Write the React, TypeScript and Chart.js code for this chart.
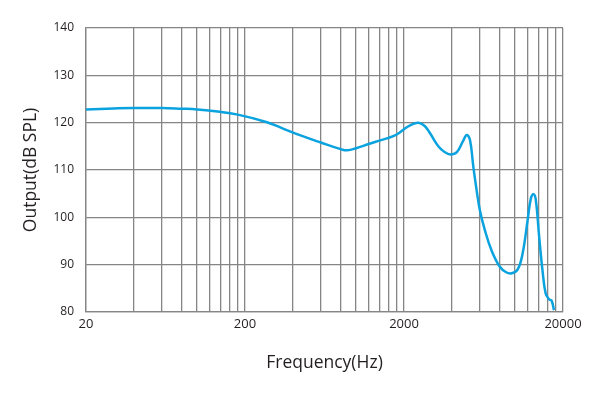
import React, { useEffect, useRef } from 'react';
import { Chart, registerables } from 'chart.js';

Chart.register(...registerables);

// Frequency response (Hz -> dB SPL)
const frequencies = [
  20, 30, 40, 60, 80, 100, 130, 180, 275, 350, 447, 600, 800, 880,
  1000, 1200, 1400, 1600, 1800, 2000, 2200, 2460, 2700, 2917, 3307, 3600, 3910, 4300,
  4700, 4960, 5205, 5457, 5721, 6000, 6450, 7090, 7990, 8780, 9530, 10380, 11150,
  11980, 12560, 13060, 13490, 14160, 14850, 15560, 16330, 16950, 17550,
];
const outputDb = [
  122.8, 123.0, 123.1, 123.1, 122.95, 122.8, 122.4, 121.7, 120.1,
  118.7, 117.3, 115.8, 114.4, 114.15, 114.6, 115.5, 116.2, 116.8, 117.5, 118.6,
  119.5, 120.0, 119.3, 117.75, 114.9, 113.8, 113.3, 113.8, 116.1, 117.4, 116.3, 110.7,
  105.8, 101.5, 97.3, 93.1, 89.6, 88.4, 88.2, 89.0, 92.4, 99.4, 104.0, 104.9, 103.7,
  95.9, 88.9, 83.9, 82.7, 82.4, 80.4,
];

// Axis ticks
const xGridValues = [
  20, 40, 60, 80, 100, 120, 140, 160, 180, 200,
  400, 600, 800, 1000, 1200, 1400, 1600, 1800, 2000,
  4000, 6000, 8000, 10000, 12000, 14000, 16000, 18000, 20000,
];
const xLabelValues = [20, 200, 2000, 20000];
const yTickValues = [80, 90, 100, 110, 120, 130, 140];

const FONT = '"Open Sans", "Noto Sans", sans-serif';
const TEXT = '#231f20';
const GRID = '#858585';
const LINE = '#0aa3df';

export default function App() {
  const ref = useRef<HTMLCanvasElement | null>(null);

  useEffect(() => {
    if (!ref.current) return;
    const chart = new Chart(ref.current, {
      type: 'line',
      data: {
        datasets: [
          {
            data: frequencies.map((f, i) => ({ x: f, y: outputDb[i] })),
            borderColor: LINE,
            borderWidth: 2.5,
            pointRadius: 0,
            tension: 0.4,
            fill: false,
          },
        ],
      },
      options: {
        responsive: false,
        animation: false,
        devicePixelRatio: 1,
        layout: { padding: { top: 28, right: 36, left: 0, bottom: 0 } },
        plugins: { legend: { display: false }, tooltip: { enabled: false } },
        scales: {
          x: {
            type: 'logarithmic',
            min: 20,
            max: 20000,
            afterBuildTicks: (s: any) => {
              s.ticks = xGridValues.map((v) => ({ value: v }));
            },
            afterFit: (s: any) => {
              s.height = 86;
            },
            ticks: {
              autoSkip: false,
              maxRotation: 0,
              minRotation: 0,
              padding: 4,
              color: TEXT,
              font: { family: FONT, size: 13 },
              callback: (v: any) => (xLabelValues.includes(Number(v)) ? String(v) : ''),
            },
            grid: { color: GRID, lineWidth: 1.3, drawTicks: false },
            border: { color: GRID, width: 1.3 },
            title: {
              display: true,
              text: 'Frequency(Hz)',
              color: TEXT,
              font: { family: FONT, size: 17.5 },
              padding: { top: 0, bottom: 24 },
            },
          },
          y: {
            type: 'linear',
            min: 80,
            max: 140,
            afterBuildTicks: (s: any) => {
              s.ticks = yTickValues.map((v) => ({ value: v }));
            },
            afterFit: (s: any) => {
              s.width = 86;
            },
            ticks: {
              padding: 12,
              color: TEXT,
              font: { family: FONT, size: 12 },
            },
            grid: { color: GRID, lineWidth: 1.3, drawTicks: false },
            border: { color: GRID, width: 1.3 },
            title: {
              display: true,
              text: 'Output(dB SPL)',
              color: TEXT,
              font: { family: FONT, size: 17.5 },
              padding: { top: 21, bottom: 0 },
            },
          },
        },
      },
    } as any);
    return () => chart.destroy();
  }, []);

  return (
    <div style={{ position: 'absolute', left: 0, top: 0, width: 599, height: 398, background: '#fff' }}>
      <canvas ref={ref} width={599} height={398} style={{ display: 'block' }} />
    </div>
  );
}
